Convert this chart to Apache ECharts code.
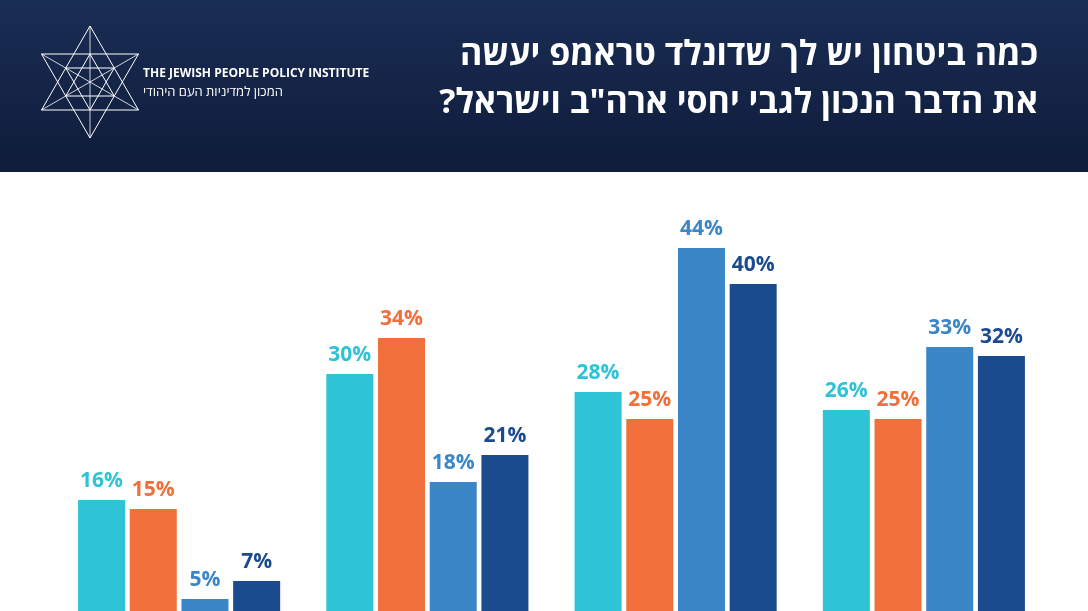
<!DOCTYPE html>
<html><head><meta charset="utf-8">
<script src="https://cdn.jsdelivr.net/npm/echarts@6/dist/echarts.min.js"></script>
<style>html,body{margin:0;padding:0;background:#fff}#c{width:1088px;height:611px}</style>
</head><body><div id="c"></div>
<script>
const categories = ['A','B','C','D'];
const s1 = [16,30,28,26];
const s2 = [15,34,25,25];
const s3 = [5,18,44,33];
const s4 = [7,21,40,32];
const colors = ['#2ec3d5','#f06f3a','#3b86c7','#1b4b8f'];
const titleLines = ['כמה ביטחון יש לך שדונלד טראמפ יעשה','את הדבר הנכון לגבי יחסי ארה"ב וישראל?'];

const chart = echarts.init(document.getElementById('c'));
function ser(d,i){return {type:'bar',data:d,barWidth:47,barGap:'10%',itemStyle:{color:colors[i]},
  label:{show:true,position:'top',distance:8,formatter:'{c}%',color:colors[i],fontFamily:'Open Sans',fontWeight:'bold',fontSize:21},
  silent:true};}
const star=[];
const cx=90, cy=82, R=56;
function pt(a,r){return [cx+r*Math.sin(a),cy-r*Math.cos(a)];}
const t1=[0,2,4].map(k=>pt(k*Math.PI/3,R)), t2=[1,3,5].map(k=>pt(k*Math.PI/3,R));
const line={stroke:'#fff',lineWidth:1,fill:null};
star.push({type:'polygon',shape:{points:t1},style:line});
star.push({type:'polygon',shape:{points:t2},style:line});
star.push({type:'polygon',shape:{points:[0,2,4].map(k=>pt(k*Math.PI/3+Math.PI,R/2))},style:line});
star.push({type:'polygon',shape:{points:[1,3,5].map(k=>pt(k*Math.PI/3+Math.PI,R/2))},style:line});
for(let k=0;k<3;k++){const a=pt(k*Math.PI/3,R),b=pt(k*Math.PI/3+Math.PI,R);star.push({type:'line',shape:{x1:a[0],y1:a[1],x2:b[0],y2:b[1]},style:{stroke:'#fff',lineWidth:0.8}});}
const rtl = s => '\u202B' + s + '\u202C';
chart.setOption({
  animation:false,
  grid:{left:55,width:993,top:194,bottom:0},
  xAxis:{type:'category',data:categories,show:false},
  yAxis:{type:'value',min:50-417/9,max:50,show:false},
  graphic:[
    {type:'rect',shape:{x:0,y:0,width:1088,height:172},style:{fill:new echarts.graphic.LinearGradient(0,0,0,1,[{offset:0,color:'#1a2d55'},{offset:1,color:'#0f1c3a'}])},z:0},
    ...star.map(e=>Object.assign(e,{z:1})),
    {type:'text',x:143,y:68,style:{text:'THE JEWISH PEOPLE POLICY INSTITUTE',fill:'#fff',font:'bold 12px "Open Sans"'},z:1},
    {type:'text',x:143,y:86,style:{text:'המכון למדיניות העם היהודי',fill:'#fff',font:'13px "Open Sans"'},z:1},
    {type:'text',right:50,top:38,style:{text:rtl(titleLines[0]),fill:'#fff',font:'bold 34px "Open Sans"',align:'right'},z:1},
    {type:'text',right:50,top:86,style:{text:rtl(titleLines[1]),fill:'#fff',font:'bold 34px "Open Sans"',align:'right'},z:1}
  ],
  series:[ser(s1,0),ser(s2,1),ser(s3,2),ser(s4,3)]
});
</script></body></html>
